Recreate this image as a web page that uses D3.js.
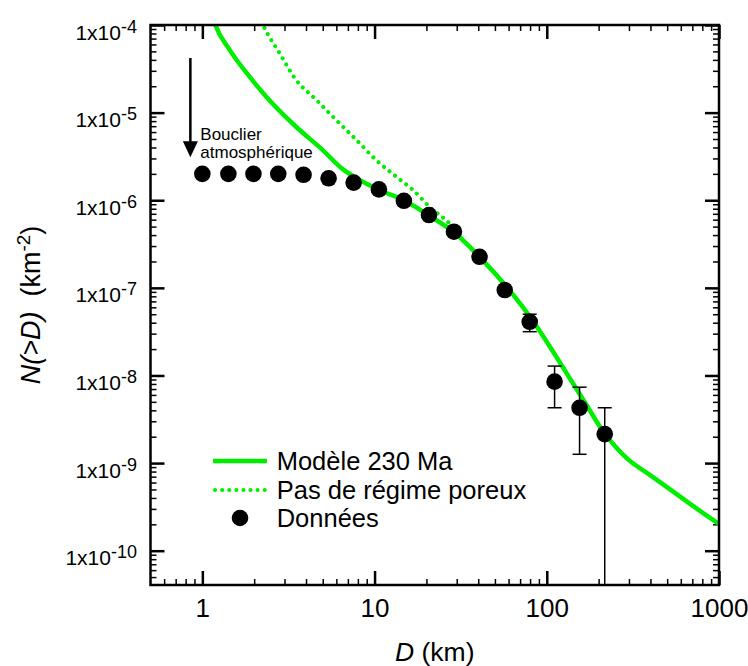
<!DOCTYPE html>
<html><head><meta charset="utf-8">
<script src="https://cdn.jsdelivr.net/npm/d3@7"></script>
<style>
body{margin:0;background:#fff}
svg{display:block}
text{font-family:"Liberation Sans",Arial,Helvetica,sans-serif;fill:#000}
</style>
</head><body>
<svg id="c" width="748" height="666"></svg>
<script>
// ---- data ----
const dataD=[1.0,1.416,1.98,2.76,3.87,5.41,7.56,10.6,14.8,20.7,28.9,40.7,57,79.6,111,155,217];
const dataN=[2.0e-6,2.0e-6,2.0e-6,2.0e-6,1.95e-6,1.78e-6,1.59e-6,1.33e-6,9.86e-7,6.78e-7,4.37e-7,2.26e-7,9.44e-8,4.1e-8,8.5e-9,4.28e-9,2.14e-9];
const errD=[79.6,111,155,217];
const errLo=[3.16e-8,4.28e-9,1.26e-9,0];
const errHi=[5.0e-8,1.28e-8,7.35e-9,4.28e-9];
const modelD=[1.17,1.19,1.44,1.88,2.35,3.5,5.0,6.56,7.56,10.6,14.8,20.7,28.9,40.7,58.4,83.7,95.3,130,169,216,254,291,398,565,775,1000];
const modelN=[1.1e-4,1e-4,5.2e-5,2.57e-5,1.52e-5,6.9e-6,3.74e-6,2.25e-6,1.87e-6,1.31e-6,1.0e-6,6.7e-7,4.3e-7,2.26e-7,1.03e-7,4.1e-8,2.8e-8,1.07e-8,4.7e-9,2.19e-9,1.5e-9,1.14e-9,7.3e-10,4.45e-10,2.85e-10,2.02e-10];
const noPoreD=[2.2,2.25,2.81,3.51,4.6,6.0,7.85,10.2,13.4,16.7,20.9,27.3,33];
const noPoreN=[1.1e-4,1e-4,4.75e-5,2.35e-5,1.39e-5,8.2e-6,4.87e-6,2.88e-6,1.85e-6,1.31e-6,8.4e-7,5.4e-7,3.4e-7];
const xDomain=[0.5,1000];
const yDomain=[4.06e-11,1e-4];
const xMajor=[1,10,100,1000];
const xLabels=["1","10","100","1000"];
const yMajor=[1e-4,1e-5,1e-6,1e-7,1e-8,1e-9,1e-10];
const yExp=["-4","-5","-6","-7","-8","-9","-10"];
const legendLabels=["Modèle 230 Ma","Pas de régime poreux","Données"];
const arrowD=[0.852], arrowN=[4.2e-5,3.1e-6];
const noteLines=["Bouclier","atmosphérique"];

// ---- layout ----
const W=748,H=666;
const P={l:150.5,r:719,t:25,b:585};
const green="#00ee00";
const svg=d3.select("#c");
svg.append("rect").attr("width",W).attr("height",H).attr("fill","#fff");

const x=d3.scaleLog().domain(xDomain).range([P.l,P.r]);
const y=d3.scaleLog().domain(yDomain).range([P.b,P.t]);

const xMinor=[];
[0.1,1,10,100].forEach(e=>{for(let k=2;k<=9;k++){const v=+(k*e).toPrecision(3); if(v>xDomain[0]&&v<xDomain[1]) xMinor.push(v);}});
const yMinor=[];
[1e-11,1e-10,1e-9,1e-8,1e-7,1e-6,1e-5].forEach(e=>{for(let k=2;k<=9;k++){const v=k*e; if(v>yDomain[0]&&v<yDomain[1]) yMinor.push(v);}});

svg.append("defs").append("clipPath").attr("id","clip").append("rect")
  .attr("x",P.l).attr("y",P.t).attr("width",P.r-P.l).attr("height",P.b-P.t);

function axisG(axis,tx,ty,sw){
  const g=svg.append("g").attr("transform",`translate(${tx},${ty})`).call(axis);
  g.select(".domain").remove();
  g.selectAll(".tick line").attr("stroke","#000").attr("stroke-width",sw);
  g.attr("font-family",null).attr("font-size",null);
  return g;
}
// minor ticks
axisG(d3.axisBottom(x).tickValues(xMinor).tickSize(-6).tickFormat(""),0,P.b,1.5);
axisG(d3.axisTop(x).tickValues(xMinor).tickSize(-6).tickFormat(""),0,P.t,1.5);
axisG(d3.axisLeft(y).tickValues(yMinor).tickSize(-6).tickFormat(""),P.l,0,1.5);
axisG(d3.axisRight(y).tickValues(yMinor).tickSize(-6).tickFormat(""),P.r,0,1.5);
// major ticks
const gx=axisG(d3.axisBottom(x).tickValues(xMajor).tickSize(-14).tickPadding(13.5).tickFormat((d,i)=>xLabels[i]),0,P.b,2.5);
gx.selectAll(".tick text").attr("font-size",26);
axisG(d3.axisTop(x).tickValues(xMajor).tickSize(-14).tickFormat(""),0,P.t,2.5);
axisG(d3.axisLeft(y).tickValues(yMajor).tickSize(-14).tickFormat(""),P.l,0,2.5);
axisG(d3.axisRight(y).tickValues(yMajor).tickSize(-14).tickFormat(""),P.r,0,2.5);

// y tick labels with superscripts
yMajor.forEach((v,i)=>{
  const t=svg.append("text").attr("x",P.l-13.5).attr("y",y(v)+14.5)
    .attr("text-anchor","end").attr("font-size",21);
  t.append("tspan").text("1x10");
  t.append("tspan").attr("dy",-7).attr("font-size",18).text(yExp[i]);
});

// curves
const plotG=svg.append("g").attr("clip-path","url(#clip)");
const line=d3.line().x(d=>x(d[0])).y(d=>y(d[1])).curve(d3.curveMonotoneX);
plotG.append("path").datum(noPoreD.map((d,i)=>[d,noPoreN[i]]))
  .attr("d",line).attr("fill","none").attr("stroke",green).attr("stroke-width",4)
  .attr("stroke-linecap","round").attr("stroke-dasharray","0.1 7");
plotG.append("path").datum(modelD.map((d,i)=>[d,modelN[i]]))
  .attr("d",line).attr("fill","none").attr("stroke",green).attr("stroke-width",4.5);

// error bars
const eb=plotG.append("g").attr("stroke","#000").attr("stroke-width",1.5);
errD.forEach((d,i)=>{
  const cx=x(d), yh=y(errHi[i]), yl=errLo[i]>0?y(errLo[i]):P.b;
  eb.append("line").attr("x1",cx).attr("x2",cx).attr("y1",yh).attr("y2",yl);
  eb.append("line").attr("x1",cx-7).attr("x2",cx+7).attr("y1",yh).attr("y2",yh);
  if(errLo[i]>0) eb.append("line").attr("x1",cx-7).attr("x2",cx+7).attr("y1",yl).attr("y2",yl);
});
// points
plotG.selectAll("circle.pt").data(dataD.map((d,i)=>[d,dataN[i]])).join("circle")
  .attr("class","pt").attr("cx",d=>x(d[0])).attr("cy",d=>y(d[1])).attr("r",8.3).attr("fill","#000");

// annotation arrow
const ax=x(arrowD[0]), ay0=y(arrowN[0]), ay1=y(arrowN[1]);
svg.append("line").attr("x1",ax).attr("x2",ax).attr("y1",ay0).attr("y2",ay1-14)
  .attr("stroke","#000").attr("stroke-width",2.5);
svg.append("path").attr("d",`M${ax-7.5},${ay1-16}L${ax+7.5},${ay1-16}L${ax},${ay1}Z`).attr("fill","#000");
const nt=svg.append("text").attr("font-size",17);
nt.append("tspan").attr("x",x(1)-2).attr("y",y(4.93e-6)).text(noteLines[0]);
nt.append("tspan").attr("x",x(1)-2).attr("dy",18.8).text(noteLines[1]);

// legend
const lx0=213,lx1=267,ltx=276.7,lb=[470,499,527];
svg.append("line").attr("x1",lx0).attr("x2",lx1).attr("y1",lb[0]-9).attr("y2",lb[0]-9)
  .attr("stroke",green).attr("stroke-width",4.5);
svg.append("line").attr("x1",lx0+2).attr("x2",lx1).attr("y1",lb[1]-9).attr("y2",lb[1]-9)
  .attr("stroke",green).attr("stroke-width",4).attr("stroke-linecap","round").attr("stroke-dasharray","0.1 7");
svg.append("circle").attr("cx",(lx0+lx1)/2).attr("cy",lb[2]-9).attr("r",8.3).attr("fill","#000");
legendLabels.forEach((s,i)=>{
  svg.append("text").attr("x",ltx).attr("y",lb[i]).attr("font-size",25.5).text(s);
});

// axis titles
const xt=svg.append("text").attr("x",(P.l+P.r)/2).attr("y",661).attr("text-anchor","middle").attr("font-size",26.5);
xt.append("tspan").attr("font-style","italic").text("D");
xt.append("tspan").text(" (km)");
const yt=svg.append("text").attr("transform",`translate(40,${(P.t+P.b)/2}) rotate(-90)`)
  .attr("text-anchor","middle").attr("font-size",27);
yt.append("tspan").attr("font-style","italic").text("N(>D)");
yt.append("tspan").text("\u00a0\u00a0(km");
yt.append("tspan").attr("dy",-10).attr("font-size",19).text("-2");
yt.append("tspan").attr("dy",10).text(")");

// frame
svg.append("rect").attr("x",P.l).attr("y",P.t).attr("width",P.r-P.l).attr("height",P.b-P.t)
  .attr("fill","none").attr("stroke","#000").attr("stroke-width",2.5);
</script>
</body></html>
